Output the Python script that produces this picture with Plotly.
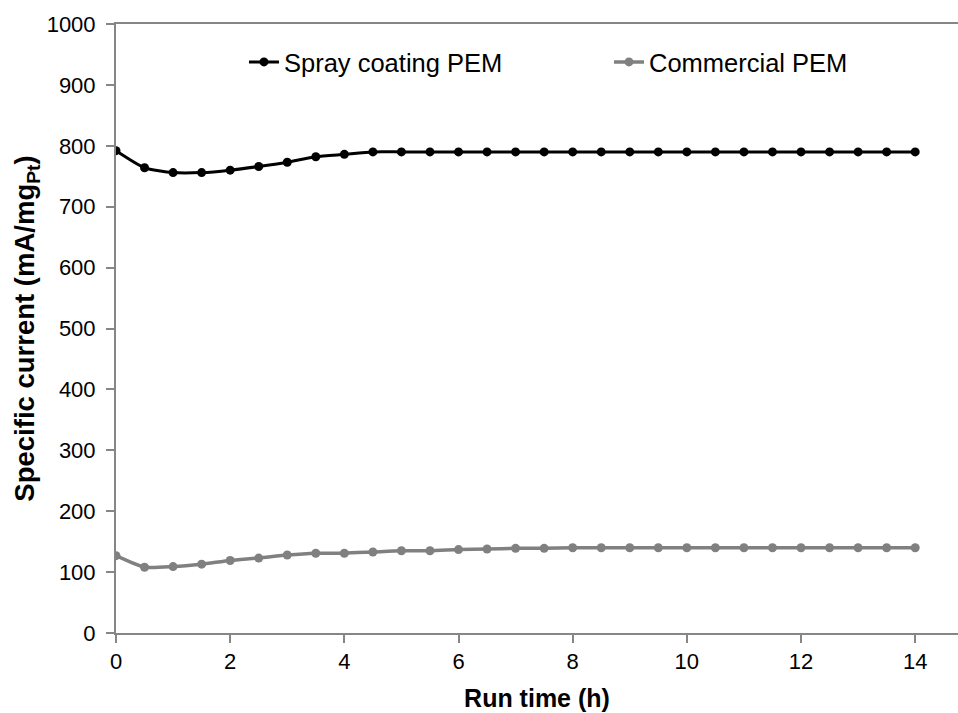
import plotly.graph_objects as go

run_time = [i * 0.5 for i in range(29)]
spray_pem = [792, 764, 756, 756, 760, 766, 773, 782, 786, 790,
             790, 790, 790, 790, 790, 790, 790, 790, 790, 790,
             790, 790, 790, 790, 790, 790, 790, 790, 790]
commercial_pem = [127, 108, 109, 113, 119, 123, 128, 131, 131, 133,
                  135, 135, 137, 138, 139, 139, 140, 140, 140, 140,
                  140, 140, 140, 140, 140, 140, 140, 140, 140]

FONT = "Liberation Sans, Arial, sans-serif"

fig = go.Figure()
fig.add_trace(go.Scatter(
    x=run_time, y=spray_pem, name="Spray coating PEM", legend="legend",
    mode="lines+markers", line=dict(color="#000000", width=3, shape="spline", smoothing=0.6),
    marker=dict(color="#000000", size=9)))
fig.add_trace(go.Scatter(
    x=run_time, y=commercial_pem, name="Commercial PEM", legend="legend2",
    mode="lines+markers", line=dict(color="#808080", width=3.5, shape="spline", smoothing=0.6),
    marker=dict(color="#808080", size=9)))

axis_color = "#868686"
legend_common = dict(orientation="h", yanchor="middle", xanchor="left",
                     font=dict(size=25.5, family=FONT), bgcolor="rgba(0,0,0,0)",
                     itemclick=False, itemdoubleclick=False)
fig.update_layout(
    width=958, height=713,
    margin=dict(l=116, r=0, t=24, b=80),
    plot_bgcolor="white", paper_bgcolor="white",
    font=dict(family=FONT, color="#000000"),
    showlegend=True,
    legend=dict(x=0.152, y=0.937, **legend_common),
    legend2=dict(x=0.5855, y=0.937, **legend_common),
    xaxis=dict(range=[0, 14.75], dtick=2, tick0=0, showgrid=False, zeroline=False,
               showline=True, linecolor=axis_color, linewidth=2, mirror=True,
               ticks="outside", ticklen=8, tickwidth=2, tickcolor=axis_color,
               tickfont=dict(size=22, family=FONT),
               title=dict(text="<b>Run time (h)</b>", font=dict(size=25, family=FONT), standoff=16)),
    yaxis=dict(range=[0, 1000], dtick=100, tick0=0, showgrid=False, zeroline=False,
               showline=True, linecolor=axis_color, linewidth=2,
               ticks="outside", ticklen=8, tickwidth=2, tickcolor=axis_color,
               ticklabelstandoff=6,
               tickfont=dict(size=22, family=FONT),
               title=dict(text="<b>Specific current (mA/mg<sub>Pt</sub>)</b>",
                          font=dict(size=27.5, family=FONT), standoff=4)),
)

fig.write_html("out.html")
